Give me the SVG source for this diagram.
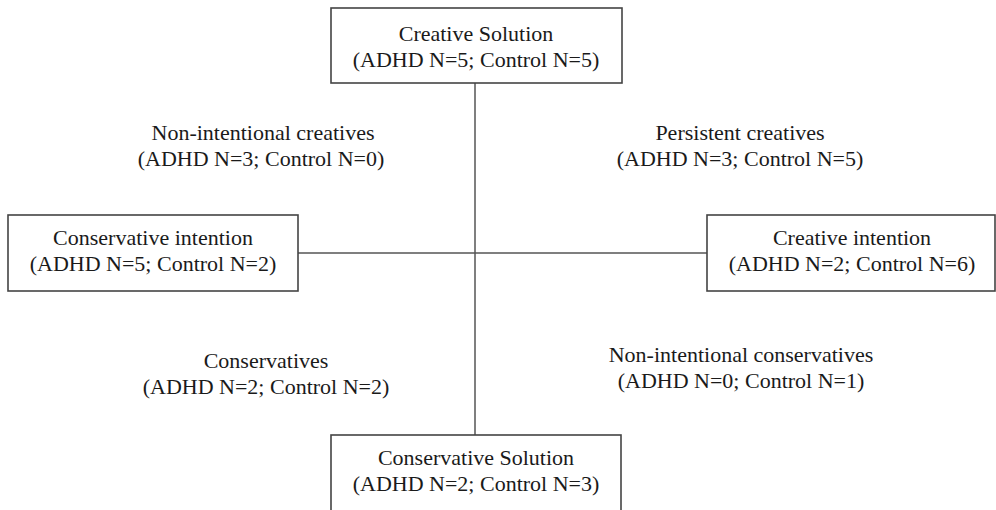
<svg xmlns="http://www.w3.org/2000/svg" width="996" height="510" viewBox="0 0 996 510">
<style>
.box{fill:#fff;stroke:#444;stroke-width:1.6}
.ln{stroke:#555;stroke-width:1.5;fill:none}
text{font-family:"Liberation Serif","Times New Roman",serif;font-size:22px;fill:#1a1a1a;text-anchor:middle}
</style>
<rect width="996" height="510" fill="#fff"/>
<g id="connectors">
<line class="ln" x1="475" y1="83" x2="475" y2="435"/>
<line class="ln" x1="298" y1="253" x2="707" y2="253"/>
</g>
<g id="creative-solution">
<rect class="box" x="331" y="8" width="291" height="75"/>
<text x="476" y="41">Creative Solution</text>
<text x="476" y="67">(ADHD N=5; Control N=5)</text>
</g>
<g id="conservative-intention">
<rect class="box" x="8" y="215" width="290" height="76"/>
<text x="153" y="245">Conservative intention</text>
<text x="153" y="271">(ADHD N=5; Control N=2)</text>
</g>
<g id="creative-intention">
<rect class="box" x="707" y="215" width="288" height="76"/>
<text x="852" y="245">Creative intention</text>
<text x="852" y="271">(ADHD N=2; Control N=6)</text>
</g>
<g id="conservative-solution">
<rect class="box" x="331" y="435" width="290" height="80"/>
<text x="476" y="465">Conservative Solution</text>
<text x="476" y="491">(ADHD N=2; Control N=3)</text>
</g>
<g id="non-intentional-creatives">
<text x="263" y="140">Non-intentional creatives</text>
<text x="261" y="166">(ADHD N=3; Control N=0)</text>
</g>
<g id="persistent-creatives">
<text x="740" y="140">Persistent creatives</text>
<text x="740" y="166">(ADHD N=3; Control N=5)</text>
</g>
<g id="conservatives">
<text x="266" y="368">Conservatives</text>
<text x="266" y="394">(ADHD N=2; Control N=2)</text>
</g>
<g id="non-intentional-conservatives">
<text x="741" y="362">Non-intentional conservatives</text>
<text x="741" y="388">(ADHD N=0; Control N=1)</text>
</g>
</svg>
